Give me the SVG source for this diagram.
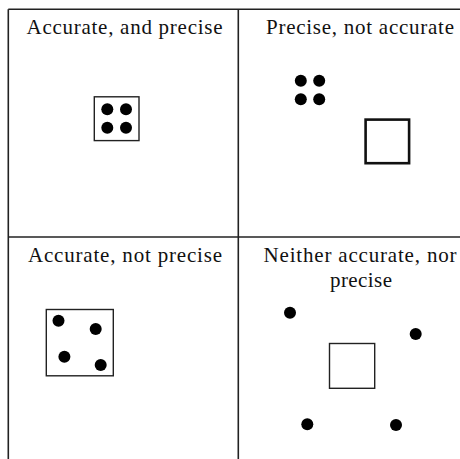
<svg xmlns="http://www.w3.org/2000/svg" width="460" height="459" viewBox="0 0 460 459">
<style>
.frame{stroke:#222;stroke-width:1.6;fill:none}
.lbl{font-family:"Liberation Serif","Times New Roman",serif;font-size:21px;fill:#111}
.tgt{fill:#fff;stroke:#222;stroke-width:1.4}
.tgt2{fill:#fff;stroke:#111;stroke-width:2.6}
.dot{fill:#000}
</style>
<rect width="460" height="459" fill="#fff"/>
<g id="grid" class="frame">
<line x1="8.3" y1="9.3" x2="460" y2="9.3"/>
<line x1="8.3" y1="9.3" x2="8.3" y2="459"/>
<line x1="238.3" y1="9.3" x2="238.3" y2="459"/>
<line x1="8.3" y1="237" x2="460" y2="237"/>
</g>
<g id="q1">
<text class="lbl" x="26.5" y="33.5" textLength="196" lengthAdjust="spacing">Accurate, and precise</text>
<rect class="tgt" x="94.3" y="96.8" width="44.7" height="43.8"/>
<circle class="dot" cx="107.3" cy="109.2" r="6"/>
<circle class="dot" cx="126" cy="109.2" r="6"/>
<circle class="dot" cx="107.3" cy="127.7" r="6"/>
<circle class="dot" cx="126" cy="127.7" r="6"/>
</g>
<g id="q2">
<text class="lbl" x="266" y="33.5" textLength="188" lengthAdjust="spacing">Precise, not accurate</text>
<circle class="dot" cx="300.8" cy="80.8" r="6"/>
<circle class="dot" cx="319.2" cy="80.8" r="6"/>
<circle class="dot" cx="300.8" cy="99.2" r="6"/>
<circle class="dot" cx="319.2" cy="99.2" r="6"/>
<rect class="tgt2" x="365.6" y="119.6" width="43.5" height="43.6"/>
</g>
<g id="q3">
<text class="lbl" x="28" y="261.7" textLength="194" lengthAdjust="spacing">Accurate, not precise</text>
<rect class="tgt" x="46.3" y="309.5" width="67" height="66.3"/>
<circle class="dot" cx="58.5" cy="320.7" r="6"/>
<circle class="dot" cx="95.7" cy="329" r="6"/>
<circle class="dot" cx="64.4" cy="356.7" r="6"/>
<circle class="dot" cx="100.7" cy="365" r="6"/>
</g>
<g id="q4">
<text class="lbl" x="263.5" y="261.7" textLength="193" lengthAdjust="spacing">Neither accurate, nor</text>
<text class="lbl" x="330" y="286.5" textLength="62" lengthAdjust="spacing">precise</text>
<rect class="tgt" x="329.5" y="343.5" width="45.2" height="44.8"/>
<circle class="dot" cx="290" cy="312.7" r="6"/>
<circle class="dot" cx="415.7" cy="334" r="6"/>
<circle class="dot" cx="307.3" cy="424.3" r="6"/>
<circle class="dot" cx="396" cy="425" r="6"/>
</g>
</svg>
